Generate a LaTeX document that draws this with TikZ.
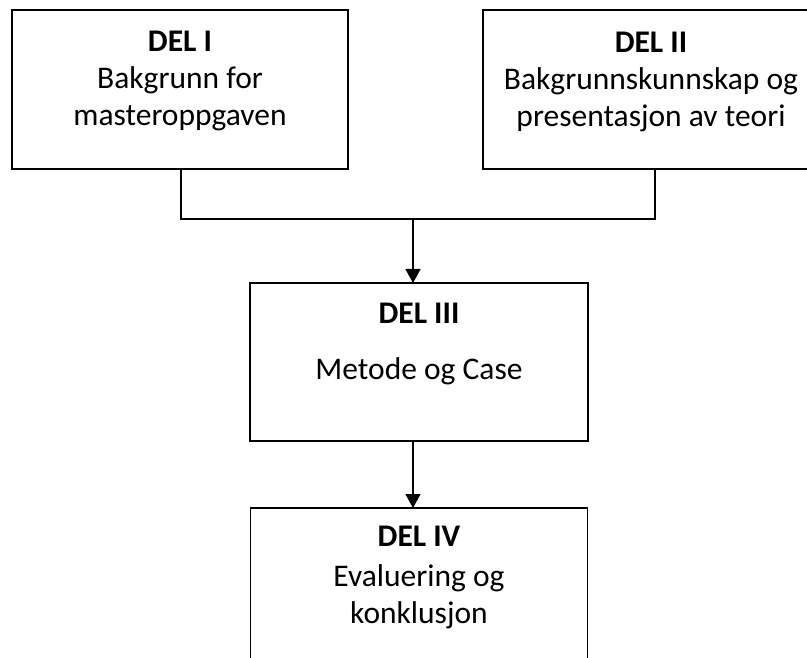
\documentclass[tikz,border=0pt]{standalone}
\usepackage{fontspec}
\setmainfont{Carlito}
\usetikzlibrary{arrows.meta}
\tikzset{
  box/.style={draw, line width=1.3pt, inner sep=0pt, outer sep=0pt},
  txt/.style={align=center, inner sep=0pt, font=\fontsize{31.5}{37}\selectfont},
  conn/.style={line width=1.3pt},
  arrowline/.style={line width=1.3pt, -{Triangle[width=15pt,length=14pt]}}
}
\begin{document}
\begin{tikzpicture}[x=1pt,y=-1pt]
\useasboundingbox (0,0) rectangle (807,658);
\clip (0,0) rectangle (807,658);
\node[box, minimum width=336pt, minimum height=159pt] (i) at (180,89.5) {};
\node[box, minimum width=336pt, minimum height=159pt] (ii) at (651,89.5) {};
\node[box, minimum width=338pt, minimum height=158pt] (iii) at (419,362) {};
\node[box, minimum width=337pt, minimum height=180pt] (iv) at (419,598) {};
\node[txt, anchor=base] (ti) at (180,126) {\textbf{DEL I}\\Bakgrunn for\\masteroppgaven};
\node[txt, anchor=base] (tii) at (651,127) {\textbf{DEL II}\\Bakgrunnskunnskap og\\presentasjon av teori};
\node[txt, anchor=base] (tiii) at (419,379) {\textbf{DEL III}\\[19pt]Metode og Case};
\node[txt, anchor=base] (tiv) at (419,623) {\textbf{DEL IV}\\[3pt]Evaluering og\\konklusjon};
\coordinate (j) at (413,219);
\draw[conn] ([xshift=1pt]i.south) |- (j) -| ([xshift=4pt]ii.south);
\draw[arrowline] (j) -- (j |- iii.north);
\draw[arrowline] (iii.south -| j) -- (iv.north -| j);
\end{tikzpicture}
\end{document}
